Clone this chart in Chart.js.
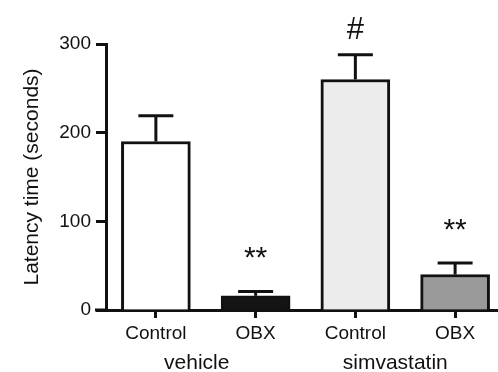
<!DOCTYPE html>
<html><head><meta charset="utf-8">
<script src="https://cdn.jsdelivr.net/npm/chart.js@4/dist/chart.umd.min.js"></script>
<style>html,body{margin:0;padding:0;background:#fff}#wrap{width:498px;height:372px;position:relative}</style>
</head><body><div id="wrap"><canvas id="c"></canvas></div>
<script>
const categories = ['Control', 'OBX', 'Control', 'OBX'];
const groups = ['vehicle', 'simvastatin'];
const groupAt = [0.41, 2.4];
const latency = [190, 16, 260, 40];
const sem = [29, 5, 28, 13];
const marks = ['', '**', '#', '**'];
const yTicks = [0, 100, 200, 300];

const INK = '#111111';
const FONT = "'Liberation Sans', Arial, Helvetica, sans-serif";

const overlay = {
  id: 'overlay',
  afterDatasetsDraw(chart) {
    const ctx = chart.ctx, xs = chart.scales.x, ys = chart.scales.y;
    ctx.save();
    ctx.strokeStyle = INK; ctx.lineWidth = 3; ctx.lineCap = 'butt';
    latency.forEach((v, i) => {
      const x = xs.getPixelForValue(i);
      const y0 = ys.getPixelForValue(v);
      const y1 = ys.getPixelForValue(v + sem[i]);
      ctx.beginPath(); ctx.moveTo(x, y0); ctx.lineTo(x, y1); ctx.stroke();
      ctx.beginPath(); ctx.moveTo(x - 17.5, y1); ctx.lineTo(x + 17.5, y1); ctx.stroke();
      if (marks[i]) {
        ctx.fillStyle = INK;
        ctx.font = (marks[i] === '#' ? '31px ' : '30px ') + FONT;
        ctx.textAlign = 'center';
        ctx.textBaseline = 'alphabetic';
        const m = ctx.measureText(marks[i]);
        ctx.fillText(marks[i], x, y1 - 15.5 + m.actualBoundingBoxDescent);
      }
    });
    ctx.fillStyle = INK;
    ctx.font = '21px ' + FONT;
    ctx.textAlign = 'center'; ctx.textBaseline = 'middle';
    groups.forEach((g, k) => {
      ctx.fillText(g, xs.getPixelForValue(groupAt[k]), 363);
    });
    const yb = ys.getPixelForValue(0);
    ctx.beginPath(); ctx.moveTo(95, yb); ctx.lineTo(xs.left, yb); ctx.stroke();
    ctx.restore();
  }
};

new Chart(document.getElementById('c'), {
  type: 'bar',
  data: {
    datasets: [{
      data: latency.map((v, i) => ({ x: i, y: v })),
      backgroundColor: ['#ffffff', '#141414', '#ececec', '#9a9a9a'],
      borderColor: INK,
      borderWidth: 3,
      barThickness: 69
    }]
  },
  plugins: [overlay],
  options: {
    responsive: true,
    maintainAspectRatio: false,
    animation: false,
    layout: { padding: { top: 44, right: 0, bottom: 0, left: 0 } },
    plugins: { legend: { display: false }, tooltip: { enabled: false } },
    scales: {
      x: {
        type: 'linear',
        offset: false,
        min: -0.5,
        max: 3.43,
        afterBuildTicks: s => { s.ticks = [0, 1, 2, 3].map(v => ({ value: v })); },
        afterFit: s => { s.height = 62; },
        ticks: {
          callback: v => categories[v],
          font: { family: FONT, size: 19 },
          color: INK,
          padding: 4,
          maxRotation: 0,
          autoSkip: false
        },
        grid: { offset: false, drawOnChartArea: false, drawTicks: true, tickLength: 8, tickWidth: 3, tickColor: INK },
        border: { display: true, color: INK, width: 3 }
      },
      y: {
        min: 0,
        max: 300,
        afterBuildTicks: s => { s.ticks = yTicks.map(v => ({ value: v })); },
        afterFit: s => { s.width = 106; },
        ticks: { font: { family: FONT, size: 19 }, color: INK, padding: 5 },
        grid: { drawOnChartArea: false, drawTicks: true, tickLength: 10, tickWidth: 3, tickColor: INK },
        border: { display: true, color: INK, width: 3 },
        title: {
          display: true,
          text: 'Latency time (seconds)',
          font: { family: FONT, size: 21 },
          color: INK,
          padding: { top: 20, bottom: 0 }
        }
      }
    }
  }
});
</script>
</body></html>
